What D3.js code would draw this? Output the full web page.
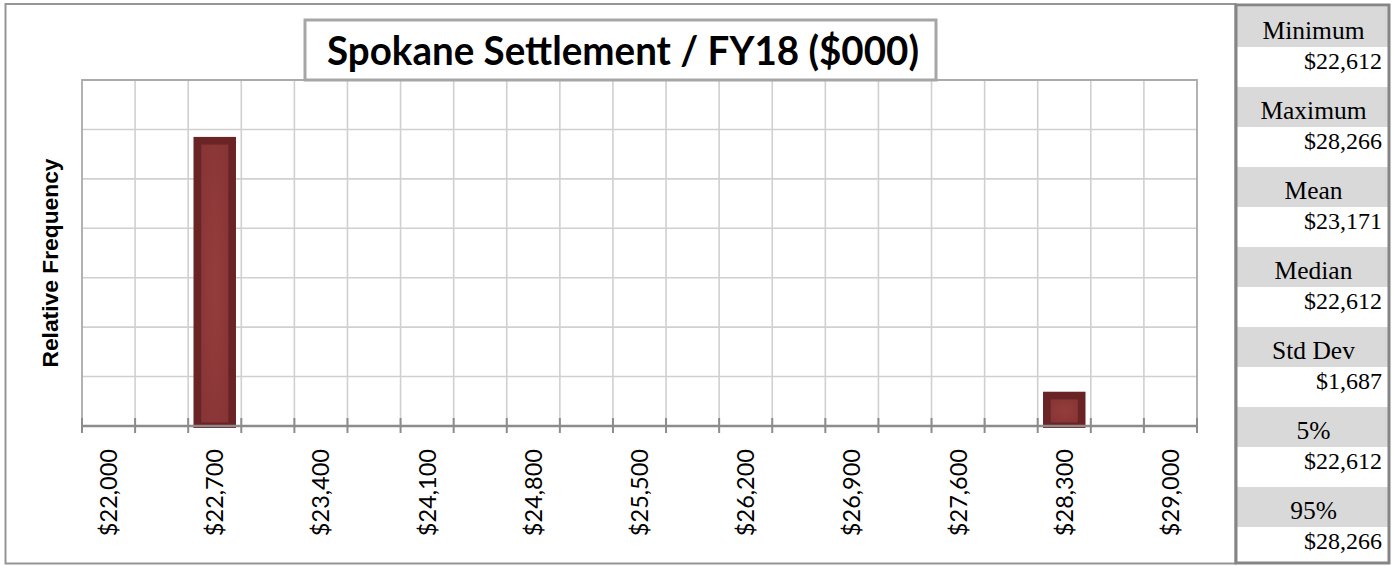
<!DOCTYPE html>
<html><head><meta charset="utf-8">
<script src="https://cdn.jsdelivr.net/npm/d3@7"></script>
<style>body{margin:0;background:#fff}svg{display:block}</style>
</head><body>
<svg id="c" width="1400" height="566"></svg>
<script>
// ---- data ----
const title = "Spokane Settlement / FY18 ($000)";
const yTitle = "Relative Frequency";
const bins = [22000,22350,22700,23050,23400,23750,24100,24450,24800,25150,25500,
              25850,26200,26550,26900,27250,27600,27950,28300,28650,29000];
const freq = [0,0,0.894,0,0,0,0,0,0,0,0,0,0,0,0,0,0,0,0.106,0,0];
const tickValues = [22000,22700,23400,24100,24800,25500,26200,26900,27600,28300,29000];
const statNames = ["Minimum","Maximum","Mean","Median","Std Dev","5%","95%"];
const statValues = ["$22,612","$28,266","$23,171","$22,612","$1,687","$22,612","$28,266"];
const yMax = 1.07;
const yDivisions = 7;

// ---- layout ----
const svg = d3.select("#c");
const plot = {l: 82, r: 1197, t: 80, b: 426};

const x = d3.scaleBand().domain(bins).range([plot.l, plot.r]).padding(0);
const y = d3.scaleLinear().domain([0, yMax]).range([plot.b, plot.t]);
const bw = x.bandwidth();
const fmt = d3.format("$,.0f");

// chart outer border
svg.append("rect").attr("x",5.5).attr("y",4).attr("width",1230).attr("height",559.5)
  .attr("fill","#fff").attr("stroke","#959595").attr("stroke-width",2);

// gradient for bar interior
const defs = svg.append("defs");
const rg = defs.append("radialGradient").attr("id","barg").attr("cx","50%").attr("cy","50%").attr("r","70%");
rg.append("stop").attr("offset","0%").attr("stop-color","#953d3d");
rg.append("stop").attr("offset","100%").attr("stop-color","#873434");

// grid
const gridTicks = d3.range(1, yDivisions).map(i => i * yMax / yDivisions);
svg.append("g").selectAll("line").data(gridTicks).join("line")
  .attr("x1", plot.l).attr("x2", plot.r)
  .attr("y1", d => y(d)).attr("y2", d => y(d))
  .attr("stroke","#d0d0d0").attr("stroke-width",1.6);
const bounds = bins.map(b => x(b)).concat([x(bins[bins.length-1]) + bw]);
svg.append("g").selectAll("line").data(bounds.slice(1, -1)).join("line")
  .attr("x1", d => d).attr("x2", d => d)
  .attr("y1", plot.t).attr("y2", plot.b)
  .attr("stroke","#d0d0d0").attr("stroke-width",1.6);
// plot border (top, left, right)
svg.append("path")
  .attr("d", `M${plot.l},${plot.b}V${plot.t}H${plot.r}V${plot.b}`)
  .attr("fill","none").attr("stroke","#aaaaaa").attr("stroke-width",1.8);

// bars
const barData = bins.map((b,i) => ({b, v: freq[i]})).filter(d => d.v > 0);
const pad = bw * 0.1, border = 7.7;
const bars = svg.append("g").selectAll("g").data(barData).join("g");
bars.append("rect")
  .attr("x", d => x(d.b) + pad).attr("width", bw - 2*pad)
  .attr("y", d => y(d.v)).attr("height", d => y(0) - y(d.v) + 2)
  .attr("fill","#6b2426");
bars.append("rect")
  .attr("x", d => x(d.b) + pad + border).attr("width", bw - 2*pad - 2*border)
  .attr("y", d => y(d.v) + border).attr("height", d => y(0) - y(d.v) - border - 3.5)
  .attr("fill","url(#barg)");

// axis line + boundary ticks
svg.append("line").attr("x1", plot.l).attr("x2", plot.r).attr("y1", plot.b).attr("y2", plot.b)
  .attr("stroke","#8c8c8c").attr("stroke-width",2.5);
svg.append("g").selectAll("line").data(bounds).join("line")
  .attr("x1", d => d).attr("x2", d => d).attr("y1", plot.b - 8).attr("y2", plot.b + 7)
  .attr("stroke","#8c8c8c").attr("stroke-width",2);

// x labels via axis
const ax = svg.append("g").attr("transform", `translate(0,${plot.b + 23})`)
  .call(d3.axisBottom(x).tickValues(tickValues).tickFormat(fmt).tickSize(0).tickPadding(0));
ax.select(".domain").remove();
ax.selectAll("text")
  .attr("transform", "rotate(-90)")
  .attr("x", 0).attr("y", 0).attr("dy", "0.36em").attr("dx", 0)
  .attr("text-anchor", "end")
  .style("font-family", "Lato, 'Open Sans', sans-serif")
  .style("font-size", "23.5px").attr("fill", "#000");

// y title
svg.append("text").attr("transform", "translate(58,263) rotate(-90)")
  .attr("text-anchor","middle")
  .style("font-family","'Liberation Sans', Arial, sans-serif").style("font-weight","bold")
  .style("font-size","22.8px").text(yTitle);

// title box
svg.append("rect").attr("x",305).attr("y",20).attr("width",631).attr("height",60)
  .attr("fill","#fff").attr("stroke","#a6a6a6").attr("stroke-width",3);
svg.append("text").attr("x",623).attr("y",65).attr("text-anchor","middle")
  .attr("textLength",592).attr("lengthAdjust","spacingAndGlyphs")
  .style("font-family","Lato, 'Open Sans', sans-serif").style("font-weight","bold")
  .style("font-size","40px").text(title);

// stats panel
const panel = {l: 1236, r: 1389, t: 5, b: 563};
const rowH = 80, bandH = 40, bandTop = 7;
const sp = svg.append("g");
sp.append("rect").attr("x",panel.l).attr("y",panel.t).attr("width",panel.r-panel.l).attr("height",panel.b-panel.t)
  .attr("fill","#fff");
const rows = sp.selectAll("g").data(statNames.map((n,i) => ({n, v: statValues[i], i}))).join("g")
  .attr("transform", d => `translate(0,${bandTop + d.i*rowH})`);
rows.append("rect").attr("x", panel.l + 1).attr("width", panel.r - panel.l - 2)
  .attr("y",0).attr("height",bandH).attr("fill","#d9d9d9");
rows.append("text").attr("x",(panel.l+panel.r)/2 + 1).attr("y",32).attr("text-anchor","middle")
  .style("font-family","'Liberation Serif','Times New Roman',serif").style("font-size","25.5px")
  .text(d => d.n);
rows.append("text").attr("x",1382).attr("y",62).attr("text-anchor","end")
  .style("font-family","'Liberation Serif','Times New Roman',serif").style("font-size","24px")
  .text(d => d.v);
sp.append("rect").attr("x",panel.l).attr("y",panel.t).attr("width",panel.r-panel.l).attr("height",panel.b-panel.t)
  .attr("fill","none").attr("stroke","#858585").attr("stroke-width",3);
</script>
</body></html>
